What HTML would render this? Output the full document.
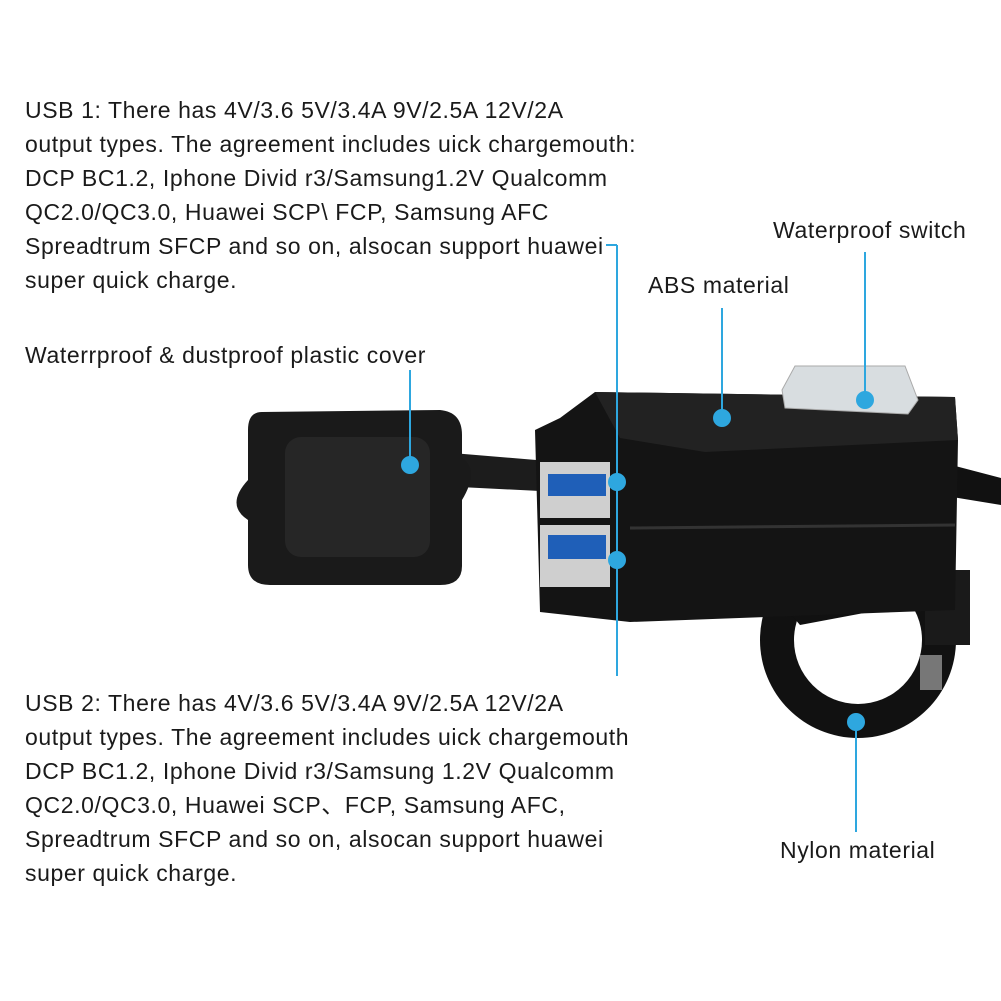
<!DOCTYPE html>
<html><head><meta charset="utf-8"><style>
html,body{margin:0;padding:0;background:#fff;}
#c{position:relative;width:1001px;height:1001px;overflow:hidden;font-family:"Liberation Sans","Noto Sans CJK SC",sans-serif;color:#1a1a1a;}
.t{position:absolute;font-size:23px;letter-spacing:0.6px;line-height:34px;white-space:nowrap;}
svg{position:absolute;left:0;top:0;}
</style></head><body><div id="c">
<svg width="1001" height="1001" viewBox="0 0 1001 1001">
 <path d="M940 462 L1001 478 L1001 505 L940 495 Z" fill="#111"/>
 <path d="M440 452 L560 462 L560 492 L440 486 Z" fill="#1c1c1c"/>
 <path d="M262 412 L440 410 Q462 412 462 435 L462 458 Q480 470 462 500 L462 566 Q462 585 440 585 L270 585 Q248 585 248 565 L248 520 Q225 505 248 480 L248 430 Q248 412 262 412 Z" fill="#1a1a1a"/>
 <rect x="285" y="437" width="145" height="120" rx="16" fill="#262626"/>
 <circle cx="858" cy="640" r="98" fill="#111"/>
 <circle cx="858" cy="640" r="64" fill="#fff"/>
 <path d="M770 590 L830 565 L880 560 L900 585 L880 610 L800 625 Z" fill="#111"/>
 <rect x="925" y="570" width="45" height="75" fill="#1a1a1a"/>
 <rect x="920" y="655" width="22" height="35" fill="#777"/>
 <path d="M595 392 L955 397 L958 440 L955 610 L630 622 L540 612 L535 430 L560 418 Z" fill="#141414"/>
 <path d="M595 392 L955 397 L958 440 L705 452 L620 438 Z" fill="#222"/>
 <path d="M630 528 L955 525" stroke="#333" stroke-width="3"/>
 <rect x="540" y="462" width="70" height="56" fill="#cfcfcf"/>
 <rect x="548" y="474" width="58" height="22" fill="#1f5fb8"/>
 <rect x="540" y="525" width="70" height="62" fill="#cfcfcf"/>
 <rect x="548" y="535" width="58" height="24" fill="#1f5fb8"/>
 <path d="M795 366 L905 366 L918 400 L908 414 L785 408 L782 390 Z" fill="#d8dde0" stroke="#aaa"/>
 <g stroke="#2ea7df" stroke-width="2" fill="#2ea7df">
  <line x1="606" y1="245" x2="617" y2="245"/>
  <line x1="617" y1="245" x2="617" y2="676"/>
  <circle cx="617" cy="482" r="8"/><circle cx="617" cy="560" r="8"/>
  <line x1="722" y1="308" x2="722" y2="418"/><circle cx="722" cy="418" r="8"/>
  <line x1="865" y1="252" x2="865" y2="400"/><circle cx="865" cy="400" r="8"/>
  <line x1="410" y1="370" x2="410" y2="465"/><circle cx="410" cy="465" r="8"/>
  <line x1="856" y1="722" x2="856" y2="832"/><circle cx="856" cy="722" r="8"/>
 </g>
</svg>
<div class="t" style="left:25px;top:93px">USB 1: There has 4V/3.6 5V/3.4A 9V/2.5A 12V/2A<br>output types. The agreement includes uick chargemouth:<br>DCP BC1.2, Iphone Divid r3/Samsung1.2V Qualcomm<br>QC2.0/QC3.0, Huawei SCP\ FCP, Samsung AFC<br>Spreadtrum SFCP and so on, alsocan support huawei<br>super quick charge.</div>
<div class="t" style="left:25px;top:338px">Waterrproof &amp; dustproof plastic cover</div>
<div class="t" style="left:773px;top:213px">Waterproof switch</div>
<div class="t" style="left:648px;top:268px">ABS material</div>
<div class="t" style="left:25px;top:686px">USB 2: There has 4V/3.6 5V/3.4A 9V/2.5A 12V/2A<br>output types. The agreement includes uick chargemouth<br>DCP BC1.2, Iphone Divid r3/Samsung 1.2V Qualcomm<br>QC2.0/QC3.0, Huawei SCP、FCP, Samsung AFC,<br>Spreadtrum SFCP and so on, alsocan support huawei<br>super quick charge.</div>
<div class="t" style="left:780px;top:833px">Nylon material</div>
</div></body></html>
